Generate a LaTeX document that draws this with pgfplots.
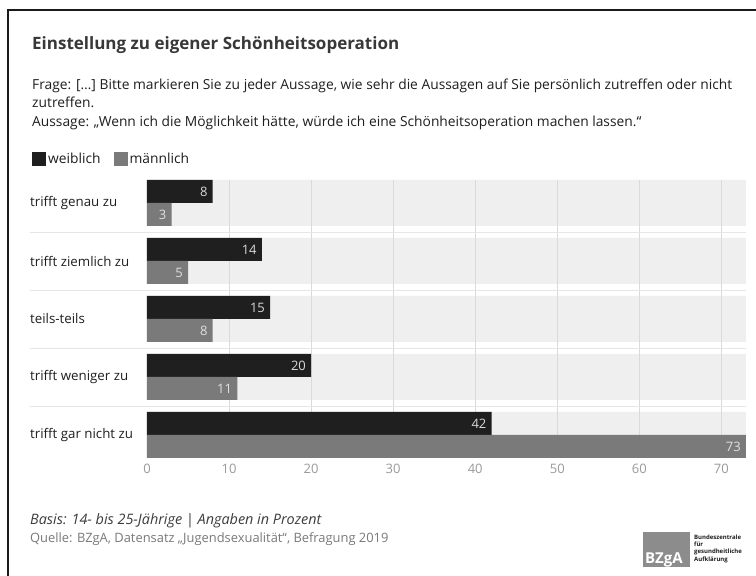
\documentclass[border=0pt]{standalone}
\usepackage{fontspec}
\setmainfont{Open Sans}
\usepackage{pgfplots}
\pgfplotsset{compat=1.18}
\definecolor{cw}{HTML}{1F1F1F}
\definecolor{cm}{HTML}{7A7A7A}
\definecolor{bandc}{HTML}{EFEFEF}
\definecolor{gridc}{HTML}{DADADA}
\definecolor{sepc}{HTML}{E6E6E6}
\definecolor{tickc}{HTML}{9A9A9A}
\definecolor{titlec}{HTML}{383838}
\definecolor{bodyc}{HTML}{1E1E1E}
\definecolor{footc}{HTML}{3C3C3C}
\definecolor{srcc}{HTML}{7A7A7A}
\definecolor{logoc}{HTML}{8C8C8C}
\definecolor{framec}{HTML}{1A1A1A}
\newcommand\fs[1]{\fontsize{#1}{#1}\selectfont}
\begin{document}
\begin{tikzpicture}[x=1pt,y=1pt]
\useasboundingbox (0,0) rectangle (756,576);
\fill[white] (0,0) rectangle (756,576);
\draw[line width=1.5pt,framec] (8,0) -- (8,566) -- (756,566);
% texts
\node[anchor=base west,inner sep=0,font=\fs{17}\bfseries,text=titlec] at (32,526) {Einstellung zu eigener Schönheitsoperation};
\node[anchor=base west,inner sep=0,font=\fs{13.8},text=bodyc] at (32,486) {Frage: […] Bitte markieren Sie zu jeder Aussage, wie sehr die Aussagen auf Sie persönlich zutreffen oder nicht};
\node[anchor=base west,inner sep=0,font=\fs{13.8},text=bodyc] at (32,468) {zutreffen.};
\node[anchor=base west,inner sep=0,font=\fs{13.8},text=bodyc] at (32,449) {Aussage: „Wenn ich die Möglichkeit hätte, würde ich eine Schönheitsoperation machen lassen.“};
\node[anchor=base west,inner sep=0,font=\fs{14.4}\itshape,text=footc] at (30,51) {Basis: 14- bis 25-Jährige {\upshape|} Angaben in Prozent};
\node[anchor=base west,inner sep=0,font=\fs{12.9},text=srcc] at (30,33) {Quelle: BZgA, Datensatz „Jugendsexualität“, Befragung 2019};
% logo
\fill[logoc] (643,9) rectangle (690,44);
\node[anchor=base west,inner sep=0,font=\fs{15}\bfseries,text=white] at (645,12) {BZgA};
\node[anchor=north west,inner sep=0,font=\fs{6}\bfseries,text=bodyc,align=left] at (694,41) {Bundeszentrale\\[1pt]für\\[1pt]gesundheitliche\\[1pt]Aufklärung};
\begin{axis}[
  at={(147pt,118pt)}, anchor=south west,
  scale only axis, width=599pt, height=278pt,
  xmin=0, xmax=73, ymin=-0.3966, ymax=4.3966,
  clip=false,
  axis line style={draw=none}, major tick length=0pt,
  xtick={0,10,...,70},
  ytick={0,1,2,3,4},
  yticklabels={trifft gar nicht zu, trifft weniger zu, teils-teils, trifft ziemlich zu, trifft genau zu},
  yticklabel style={anchor=west, xshift=-117pt, inner sep=0pt, font=\fs{13.3}, text=bodyc},
  xticklabel style={font=\fs{13}, text=tickc, yshift=-3pt},
  /pgf/number format/assume math mode=true,
  legend image code/.code={\fill[#1] (0pt,-7pt) rectangle (14pt,7pt);},
  legend style={at={(-0.192,1.0755)}, anchor=west, draw=none, fill=none, inner sep=0pt,
    legend columns=-1, font=\fs{13.8}, text=bodyc,
    /tikz/every even column/.append style={column sep=11pt}},
]
\addlegendimage{fill=cw, draw=none}
\addlegendentry{weiblich}
\addlegendimage{fill=cm, draw=none}
\addlegendentry{männlich}
% background bands
\addplot[xbar, bar width=46pt, bar shift=0pt, fill=bandc, draw=none, forget plot]
  coordinates {(73,0) (73,1) (73,2) (73,3) (73,4)};
% grid lines
\pgfplotsinvokeforeach{10,20,30,40,50,60,70}{
  \draw[gridc, line width=0.8pt] (axis cs:#1,-0.3966) -- (axis cs:#1,4.3966);
}
% separators
\pgfplotsinvokeforeach{0.5,1.5,2.5,3.5}{
  \draw[sepc, line width=0.7pt] (axis cs:-14.26,#1) -- (axis cs:73,#1);
}
% weiblich
\addplot[xbar, bar width=23pt, bar shift=11.5pt, fill=cw, draw=none, forget plot,
  nodes near coords, every node near coord/.append style={anchor=east, yshift=11.5pt, font=\fs{13}, text=white!85!black, inner sep=5pt}]
  coordinates {(42,0) (20,1) (15,2) (14,3) (8,4)};
% maennlich
\addplot[xbar, bar width=23pt, bar shift=-11.5pt, fill=cm, draw=none, forget plot,
  nodes near coords, every node near coord/.append style={anchor=east, yshift=-11.5pt, font=\fs{13}, text=white!88!black, inner sep=5pt}]
  coordinates {(73,0) (11,1) (8,2) (5,3) (3,4)};
\end{axis}
\end{tikzpicture}
\end{document}
